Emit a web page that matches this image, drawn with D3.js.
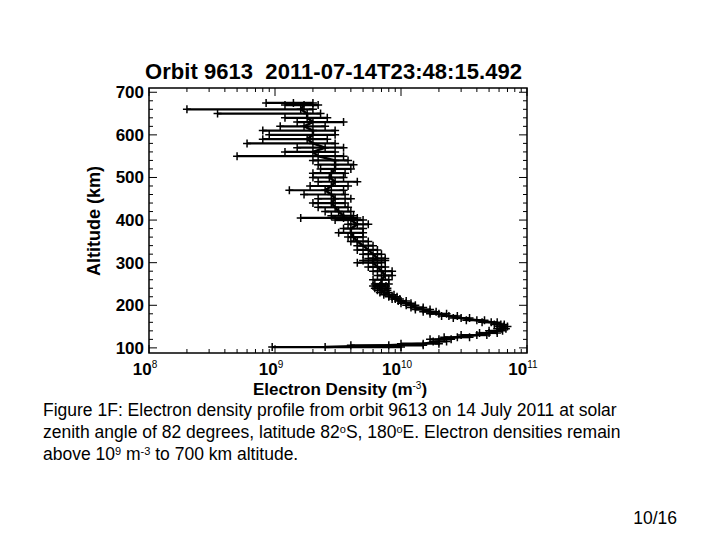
<!DOCTYPE html>
<html><head><meta charset="utf-8">
<script src="https://cdn.jsdelivr.net/npm/d3@7"></script>
<style>body{margin:0;background:#fff}text{font-family:"Liberation Sans",Arial,sans-serif}</style>
</head><body><div id="chart"></div>
<script>
// altitude (km), electron density (1e9 m^-3), error low/high
var altitude = [102,106,110,115,120,125,130,135,140,145,150,155,160,165,170,175,180,185,190,195,200,205,210,215,220,225,230,235,240,245,250,260,270,280,290,300,305,310,320,330,340,350,360,370,380,390,400,405,410,420,430,440,450,460,470,480,490,500,510,520,530,540,550,560,570,580,590,600,610,620,630,640,650,660,670,675];
var density  = [2.5,8,15,20,20,28,40,50,58,63,65,62,52,40,30,24,20,17,15,13,12,11,10,9,8.5,8,7.4,7,7,6.8,7,7,7.5,7,6.5,6,6,6.5,6,5.5,5,4.5,4.2,4,4,4.5,4,3.5,3.5,3.2,3,2.8,3,2.8,2.5,2.8,3,2.7,2.8,3,3,3,2.2,2,2.5,2,1.8,2,2,1.7,2,1.8,1.8,1.6,1.7,1.4];
var errLow   = [0.95,4,10,18,17,22,30,42,50,58,60,55,44,33,26,21,17,15,13,12,11,10,9.5,8.5,8,7.3,6.8,6.5,6.2,6,6.2,6,6.5,6,5.5,4.5,5,5.5,5,4.5,4.5,4,3.8,3.2,3.5,3.8,3,1.6,2.8,2.5,2.2,2,2.2,1.7,1.3,1.9,2.2,2,2,2.3,2.2,2,0.5,1.2,1.5,0.6,0.8,0.9,0.8,1.1,1.5,1.2,0.35,0.2,1.2,0.85];
var errHigh  = [10,15,20,23,25,35,48,58,64,68,70,66,58,46,35,28,23,19,17,15,13,12,11,9.8,9.3,8.8,8,7.8,7.8,7.6,8,8,8.5,8.5,7.5,7,7.5,7.5,7,6.5,6,5.5,5,5,5,5.5,5,4.5,4.2,4,3.8,3.6,4,3.6,3.5,3.8,4.5,3.5,3.6,4,4.2,3.8,3.5,3,3.5,3,2.6,3,3,2.5,3.5,2.6,2.3,2.0,2.2,2.0];
var yTicks = [100,200,300,400,500,600,700];
var xTicks = [1e8,1e9,1e10,1e11];

var W = 720, H = 540;
var svg = d3.select('#chart').append('svg').attr('width', W).attr('height', H);
var L = 149, R = 527, T = 88, B = 353;
var x = d3.scaleLog().domain([1e8, 1e11]).range([L, R]);
var y = d3.scaleLinear().domain([88, 710]).range([B, T]);

svg.append('text').attr('x', 145).attr('y', 79).attr('font-size', 22).attr('font-weight', 'bold')
  .attr('textLength', 377).attr('xml:space', 'preserve').text('Orbit 9613  2011-07-14T23:48:15.492');

var g = svg.append('g');
// ticks on all sides (inward)
var minorY = d3.range(100, 710, 20);
minorY.forEach(function (v) {
  var len = v % 100 === 0 ? 8 : 4;
  g.append('line').attr('x1', L).attr('x2', L + len).attr('y1', y(v)).attr('y2', y(v)).attr('stroke', '#000');
  g.append('line').attr('x1', R).attr('x2', R - len).attr('y1', y(v)).attr('y2', y(v)).attr('stroke', '#000');
});
xTicks.forEach(function (d) {
  for (var k = 1; k < 10; k++) {
    var v = d * k; if (v > 1e11) break;
    var len = k === 1 ? 8 : 4;
    g.append('line').attr('x1', x(v)).attr('x2', x(v)).attr('y1', B).attr('y2', B - len).attr('stroke', '#000');
    g.append('line').attr('x1', x(v)).attr('x2', x(v)).attr('y1', T).attr('y2', T + len).attr('stroke', '#000');
  }
});
g.append('rect').attr('x', L).attr('y', T).attr('width', R - L).attr('height', B - T)
  .attr('fill', 'none').attr('stroke', '#000').attr('stroke-width', 1.5);

yTicks.forEach(function (v) {
  svg.append('text').attr('x', L - 5).attr('y', y(v) + 6).attr('text-anchor', 'end')
    .attr('font-size', 17).attr('font-weight', 'bold').text(v);
});
xTicks.forEach(function (v) {
  var t = svg.append('text').attr('x', x(v) - 4).attr('y', 375).attr('text-anchor', 'middle')
    .attr('font-size', 17).attr('font-weight', 'bold');
  t.append('tspan').text('10');
  t.append('tspan').attr('dy', -7).attr('font-size', 10).attr('font-weight', 'normal').text(Math.round(Math.log10(v)));
});
var xl = svg.append('text').attr('x', 340).attr('y', 395).attr('text-anchor', 'middle').attr('font-size', 17).attr('font-weight', 'bold');
xl.append('tspan').text('Electron Density (m');
xl.append('tspan').attr('dy', -6).attr('font-size', 10).attr('font-weight', 'normal').text('-3');
xl.append('tspan').attr('dy', 6).text(')');
svg.append('text').attr('transform', 'translate(100,221) rotate(-90)').attr('text-anchor', 'middle')
  .attr('font-size', 18).attr('font-weight', 'bold').text('Altitude (km)');

// profile with error bars
var pts = altitude.map(function (a, i) { return {a: a, n: density[i] * 1e9, lo: errLow[i] * 1e9, hi: errHigh[i] * 1e9}; });
var plot = svg.append('g');
plot.selectAll('line.err').data(pts).enter().append('line')
  .attr('x1', function (d) { return x(d.lo); }).attr('x2', function (d) { return x(d.hi); })
  .attr('y1', function (d) { return y(d.a); }).attr('y2', function (d) { return y(d.a); })
  .attr('stroke', '#000').attr('stroke-width', 2.2);
plot.append('path').datum(pts).attr('fill', 'none').attr('stroke', '#000').attr('stroke-width', 2.5)
  .attr('d', d3.line().x(function (d) { return x(d.n); }).y(function (d) { return y(d.a); }));
var marks = [];
pts.forEach(function (d) { marks.push([d.lo, d.a], [d.n, d.a], [d.hi, d.a]); });
plot.selectAll('path.m').data(marks).enter().append('path')
  .attr('transform', function (d) { return 'translate(' + x(d[0]) + ',' + y(d[1]) + ')'; })
  .attr('d', 'M-4,0H4M0,-4V4').attr('stroke', '#000').attr('stroke-width', 1.5);

// caption
var cap = svg.append('text').attr('font-size', 17.5);
cap.append('tspan').attr('x', 43).attr('y', 416).text('Figure 1F: Electron density profile from orbit 9613 on 14 July 2011 at solar');
var l2 = cap.append('tspan').attr('x', 43).attr('y', 438);
l2.append('tspan').text('zenith angle of 82 degrees, latitude 82');
l2.append('tspan').attr('font-size', 11).attr('dy', -5).text('o');
l2.append('tspan').attr('dy', 5).text('S, 180');
l2.append('tspan').attr('font-size', 11).attr('dy', -5).text('o');
l2.append('tspan').attr('dy', 5).text('E. Electron densities remain');
var l3 = cap.append('tspan').attr('x', 43).attr('y', 460);
l3.append('tspan').text('above 10');
l3.append('tspan').attr('font-size', 11).attr('dy', -5).text('9');
l3.append('tspan').attr('dy', 5).text(' m');
l3.append('tspan').attr('font-size', 11).attr('dy', -5).text('-3');
l3.append('tspan').attr('dy', 5).text(' to 700 km altitude.');
svg.append('text').attr('x', 677).attr('y', 524).attr('text-anchor', 'end').attr('font-size', 17.5).text('10/16');
</script></body></html>
